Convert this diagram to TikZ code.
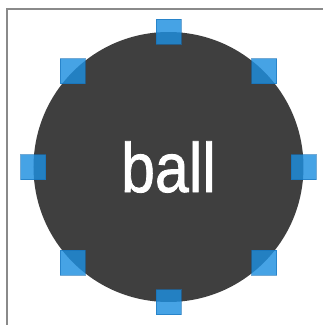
\documentclass[tikz,border=0pt]{standalone}
\usepackage{fontspec}
\usepackage{graphicx}
\setmainfont{Liberation Sans}
\newfontfamily\ballfont[FakeBold=1.2]{Liberation Sans}
\definecolor{balldark}{HTML}{3F3F3F}
\definecolor{handleblue}{HTML}{1E8FE0}
\definecolor{handleedge}{HTML}{1570B8}
\definecolor{framegray}{HTML}{8A8A8A}
\begin{document}
\begin{tikzpicture}[x=1pt,y=1pt,
  ballshape/.style={circle, fill=balldark, minimum size=270pt, inner sep=0pt, text=white,
    font=\ballfont\fontsize{70}{70}\selectfont},
  handle/.style={rectangle, minimum size=25pt, inner sep=0pt, fill=handleblue, fill opacity=0.82,
    draw=handleedge, draw opacity=0.6, line width=0.8pt}]
\useasboundingbox (0,0) rectangle (323,325);
\fill[white] (0,0) rectangle (323,325);
\coordinate (fa) at (7,0);
\coordinate (fb) at (7,316);
\coordinate (fc) at (323,316);
\draw[framegray, line width=1.3pt] (fa) -- (fb) -- (fc);
\node[ballshape] (ball) at (168.5,158) {\scalebox{0.87}[1]{ball}};
\node[handle] (hn) at (ball.north) {};
\node[handle] (hne) at (ball.north east) {};
\node[handle] (he) at (ball.east) {};
\node[handle] (hse) at (ball.south east) {};
\node[handle] (hs) at (ball.south) {};
\node[handle] (hsw) at (ball.south west) {};
\node[handle] (hw) at (ball.west) {};
\node[handle] (hnw) at (ball.north west) {};
\end{tikzpicture}
\end{document}
